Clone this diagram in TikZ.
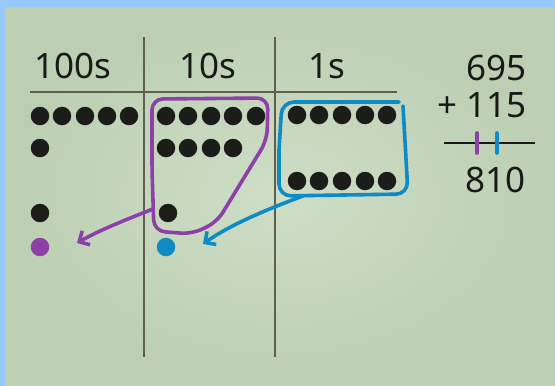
\documentclass[tikz,border=0pt]{standalone}
\usepackage{fontspec}
\setmainfont{Noto Sans}
\usetikzlibrary{arrows.meta}
\definecolor{frameblue}{RGB}{150,201,252}
\definecolor{bgin}{RGB}{206,222,199}
\definecolor{bgout}{RGB}{188,207,178}
\definecolor{rulecol}{RGB}{95,95,80}
\definecolor{mypurple}{RGB}{140,64,168}
\definecolor{myblue}{RGB}{14,138,196}
\definecolor{dotcol}{RGB}{28,28,26}
\tikzset{
  bead/.style={circle, fill=dotcol, minimum size=18.5pt, inner sep=0pt},
  pbead/.style={bead, fill=mypurple},
  bbead/.style={bead, fill=myblue},
  rulestyle/.style={draw=rulecol, line width=2pt},
  lbl/.style={font=\fontsize{35}{38}\selectfont, text=black!90, inner sep=0pt},
  loop/.style={line width=3.6pt, line cap=round, line join=round},
  tip/.style={-{Straight Barb[length=8pt,width=16pt,line width=3.6pt]}}
}
\begin{document}
\begin{tikzpicture}[x=1pt,y=-1pt]
\useasboundingbox (0,0) rectangle (555,386);
\fill[frameblue] (0,0) rectangle (555,386);
\shade[inner color=bgin, outer color=bgout] (5,7) rectangle (555,386);
% grid
\coordinate (h1) at (30,92); \coordinate (h2) at (397,92);
\coordinate (v1a) at (144,37); \coordinate (v1b) at (144,357);
\coordinate (v2a) at (275,37); \coordinate (v2b) at (275,357);
\draw[rulestyle] (h1) -- (h2);
\draw[rulestyle] (v1a) -- (v1b);
\draw[rulestyle] (v2a) -- (v2b);
% headers
\node[lbl, anchor=base] (t100) at (73,78) {100s};
\node[lbl, anchor=base] (t10) at (208,78) {10s};
\node[lbl, anchor=base] (t1) at (327,78) {1s};
% hundreds
\foreach \i/\x in {1/40,2/62,3/85,4/107,5/129} \node[bead] (ha\i) at (\x,116) {};
\node[bead] (hb) at (40,148) {};
\node[bead] (hc) at (40,213) {};
\node[pbead] (hp) at (40,247) {};
% tens
\foreach \i/\x in {1/166,2/188,3/211,4/233,5/256} \node[bead] (ta\i) at (\x,116) {};
\foreach \i/\x in {1/166,2/188,3/211,4/233} \node[bead] (tb\i) at (\x,148) {};
\node[bead] (tc) at (168,213) {};
\node[bbead] (tp) at (166,247) {};
% ones
\foreach \i/\x in {1/297,2/319,3/342,4/365,5/387} \node[bead] (oa\i) at (\x,115) {};
\foreach \i/\x in {1/297,2/319,3/342,4/365,5/387} \node[bead] (ob\i) at (\x,181) {};
% purple loop
\draw[loop, mypurple, rounded corners=11pt] (152,170) -- (152,99) -- (268,98) -- (267,140) -- (217,222) -- (192,234) -- (154,231) -- cycle;
\coordinate (ptail) at (153,209);
\coordinate (phead) at (77,243);
\draw[loop, mypurple, tip] (ptail) .. controls (125,220) and (100,230) .. (phead);
% blue loop
\draw[loop, myblue, rounded corners=12pt] (279,150) -- (282,102) -- (399,102);
\draw[loop, myblue, rounded corners=12pt] (403,106) -- (408,194) -- (279,196) -- (279,150);
\coordinate (btail) at (303,196);
\coordinate (bhead) at (203,244);
\draw[loop, myblue, tip] (btail) .. controls (265,210) and (230,225) .. (bhead);
% sum
\node[lbl, anchor=base east] (n1) at (527,80) {695};
\node[lbl, anchor=base east] (n2) at (527,117) {+ 115};
\coordinate (sl) at (444,143); \coordinate (sr) at (535,143);
\draw[line width=2.2pt, black!90] (sl) -- (sr);
\coordinate (pt1) at (477,133); \coordinate (pt2) at (477,153);
\coordinate (bt1) at (497,133); \coordinate (bt2) at (497,153);
\draw[loop, mypurple] (pt1) -- (pt2);
\draw[loop, myblue] (bt1) -- (bt2);
\node[lbl, anchor=base east] (n3) at (526,192) {810};
\end{tikzpicture}
\end{document}
